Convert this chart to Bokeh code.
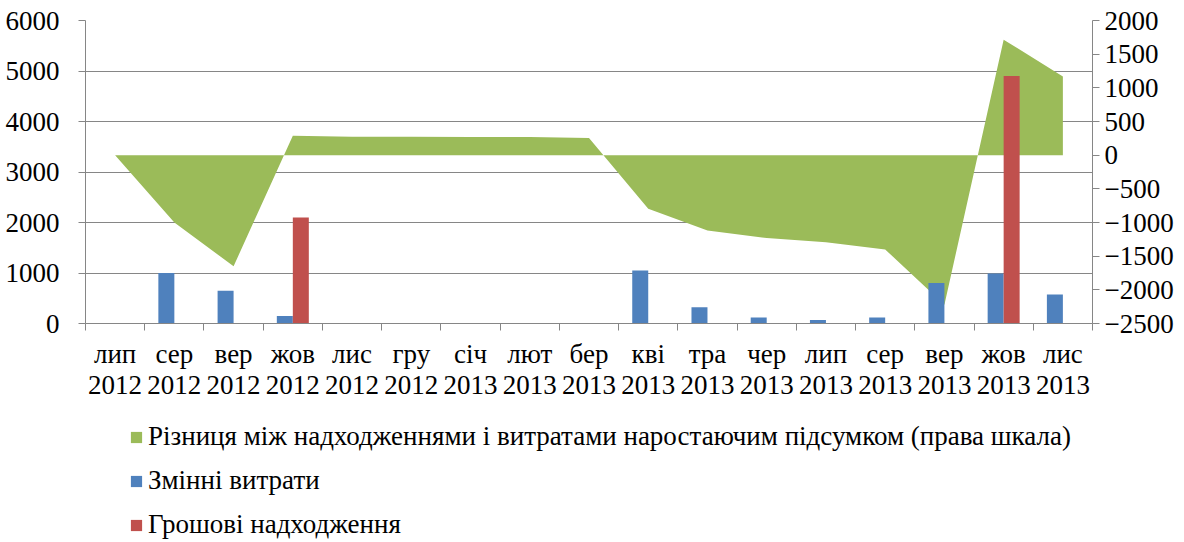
from bokeh.plotting import figure
from bokeh.layouts import column
from bokeh.models import Range1d, LinearAxis, FixedTicker, Legend, LegendItem, ColumnDataSource
from bokeh.embed import file_html
from bokeh.resources import INLINE

months = ["лип", "сер", "вер", "жов", "лис", "гру", "січ", "лют", "бер",
          "кві", "тра", "чер", "лип", "сер", "вер", "жов", "лис"]
years = ["2012"] * 6 + ["2013"] * 11
variable_costs = [0, 1000, 650, 150, 0, 0, 0, 0, 0, 1050, 320, 120, 70, 120, 800, 990, 575]
cash_inflows = [0, 0, 0, 2100, 0, 0, 0, 0, 0, 0, 0, 0, 0, 0, 0, 4900, 0]
cumulative_diff = [0, -1000, -1650, 290, 275, 272, 270, 268, 255,
                   -795, -1120, -1230, -1295, -1400, -2220, 1715, 1170]
series_names = ["Різниця між надходженнями і витратами наростаючим підсумком (права шкала)",
                "Змінні витрати",
                "Грошові надходження"]
colors = ["#9BBB59", "#4F81BD", "#C0504D"]

FONT = "Liberation Serif"
FS = "27px"
GREY = "#868686"

idx = list(range(len(months)))
src = ColumnDataSource(dict(
    x=idx,
    xb=[i - 0.135 for i in idx],
    xr=[i + 0.135 for i in idx],
    costs=variable_costs,
    inflows=cash_inflows,
    diff=cumulative_diff,
    zero=[0] * len(idx),
))

p = figure(width=1184, height=420, output_backend="svg", toolbar_location=None,
           x_range=Range1d(-0.5, 16.5), y_range=Range1d(0, 6000),
           min_border_left=85, min_border_right=92, min_border_top=20, min_border_bottom=97)
p.outline_line_color = None
p.extra_y_ranges = {"right": Range1d(-2500, 2000)}

green = p.varea(x="x", y1="zero", y2="diff", source=src, fill_color=colors[0], y_range_name="right")
blue = p.vbar(x="xb", top="costs", width=0.27, source=src, fill_color=colors[1], line_color=None)
red = p.vbar(x="xr", top="inflows", width=0.27, source=src, fill_color=colors[2], line_color=None)

# grid
p.xgrid.visible = False
p.ygrid.ticker = FixedTicker(ticks=list(range(0, 6001, 1000)))
p.ygrid.grid_line_color = GREY
p.ygrid.grid_line_width = 1

# x axis
xa = p.xaxis[0]
xa.ticker = FixedTicker(ticks=idx, minor_ticks=[i - 0.5 for i in range(len(months) + 1)])
xa.major_label_overrides = {i: f"{m}\n{y}" for i, (m, y) in enumerate(zip(months, years))}
xa.major_tick_out = 0
xa.major_tick_in = 0
xa.minor_tick_out = 7
xa.minor_tick_in = 0
xa.minor_tick_line_color = GREY
xa.axis_line_color = GREY
xa.major_label_standoff = 8
xa.major_label_text_font = FONT
xa.major_label_text_font_size = FS
xa.major_label_text_line_height = 1.05
xa.major_label_text_color = "black"

# left axis
ya = p.yaxis[0]
ya.ticker = FixedTicker(ticks=list(range(0, 6001, 1000)))
ya.minor_tick_out = 0
ya.minor_tick_in = 0
ya.major_tick_in = 0
ya.major_tick_out = 7
ya.major_tick_line_color = GREY
ya.axis_line_color = GREY
ya.major_label_standoff = 19
ya.major_label_text_font = FONT
ya.major_label_text_font_size = FS
ya.major_label_text_color = "black"

# right axis
ra = LinearAxis(y_range_name="right", ticker=FixedTicker(ticks=list(range(-2500, 2001, 500))))
ra.minor_tick_out = 0
ra.minor_tick_in = 0
ra.major_tick_in = 0
ra.major_tick_out = 7
ra.major_tick_line_color = GREY
ra.axis_line_color = GREY
ra.major_label_standoff = 5
ra.major_label_text_font = FONT
ra.major_label_text_font_size = FS
ra.major_label_text_color = "black"
p.add_layout(ra, "right")

# legend figure (its frame is aligned with the main plot's frame in the column)
lg = figure(width=1184, height=122, output_backend="svg", toolbar_location=None,
            x_range=Range1d(0, 1), y_range=Range1d(0, 1),
            min_border_left=85, min_border_right=92, min_border_top=0, min_border_bottom=0)
lg.axis.visible = False
lg.grid.visible = False
lg.outline_line_color = None
dummy = ColumnDataSource(dict(x=[-100], top=[0]))
rends = [lg.vbar(x="x", top="top", width=0.1, source=dummy, fill_color=c, line_color=None)
         for c in colors]
legend = Legend(items=[LegendItem(label=n, renderers=[r]) for n, r in zip(series_names, rends)],
                location=(44, 2))
legend.orientation = "vertical"
legend.padding = 0
legend.margin = 0
legend.border_line_color = None
legend.background_fill_alpha = 0
legend.label_text_font = FONT
legend.label_text_font_size = FS
legend.label_text_color = "black"
legend.glyph_width = 14
legend.glyph_height = 14
legend.label_height = 30
legend.spacing = 13
legend.label_standoff = 5
lg.add_layout(legend)

layout = column(p, lg, spacing=0)
open("out.html", "w").write(file_html(layout, INLINE))
